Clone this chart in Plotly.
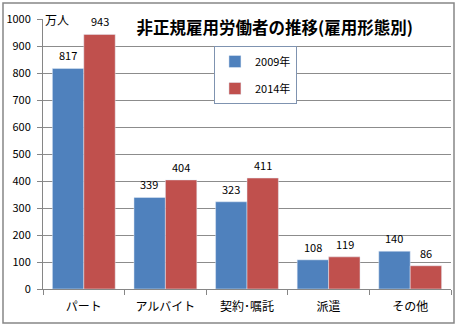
import plotly.graph_objects as go

categories = ["パート", "アルバイト", "契約･嘱託", "派遣", "その他"]
v2009 = [817, 339, 323, 108, 140]
v2014 = [943, 404, 411, 119, 86]
yticks = list(range(0, 1001, 100))

FONT = "Noto Sans CJK JP"
fig = go.Figure()
fig.add_bar(name="2009年", x=categories, y=v2009, marker_color="#4F81BD", legendgroup="a")
fig.add_bar(name="2014年", x=categories, y=v2014, marker_color="#C0504D", legendgroup="b")

for vals, xs in ((v2009, -16), (v2014, 16)):
    for c, v in zip(categories, vals):
        fig.add_annotation(x=c, y=v, text=str(v), xref="x", yref="y", showarrow=False,
                           xshift=xs, yshift=13, yanchor="middle",
                           font=dict(size=11, color="#000"))

fig.update_layout(
    width=458, height=328,
    margin=dict(l=43, r=7, t=19, b=39),
    paper_bgcolor="white", plot_bgcolor="white",
    font=dict(family=FONT, size=11, color="#000"),
    barmode="group", bargap=0.23, bargroupgap=0,
    title=dict(text="<b>非正規雇用労働者の推移(雇用形態別)</b>", x=0.6, xanchor="center",
               y=1 - 28/328, yanchor="middle", font=dict(size=16.5, color="#000")),
    legend=dict(x=0.419, y=0.9, xanchor="left", yanchor="top",
                bordercolor="#7f93b0", borderwidth=1, bgcolor="white",
                font=dict(size=11), itemwidth=30, tracegroupgap=8),
    showlegend=True,
)
fig.update_yaxes(range=[0, 1000], tickvals=yticks, showgrid=True, gridcolor="#8c8c8c",
                 gridwidth=1, showline=True, linecolor="#868686", ticks="outside",
                 ticklen=5, tickcolor="#868686", zeroline=False, ticklabelstandoff=4)
fig.update_xaxes(showline=True, linecolor="#868686", ticks="outside", ticklen=5,
                 tickcolor="#868686", tickson="boundaries", tickfont=dict(size=12),
                 ticklabelstandoff=7)
fig.add_annotation(text="万人", xref="paper", yref="paper", x=0.0, y=1.0,
                   xanchor="left", yanchor="middle", showarrow=False, font=dict(size=12))
fig.add_shape(type="rect", xref="paper", yref="paper",
              x0=(3-43)/408, x1=(454-43)/408, y0=(289-323)/270, y1=(289-3)/270,
              line=dict(color="#868686", width=1.5))
fig.write_html("out.html")
